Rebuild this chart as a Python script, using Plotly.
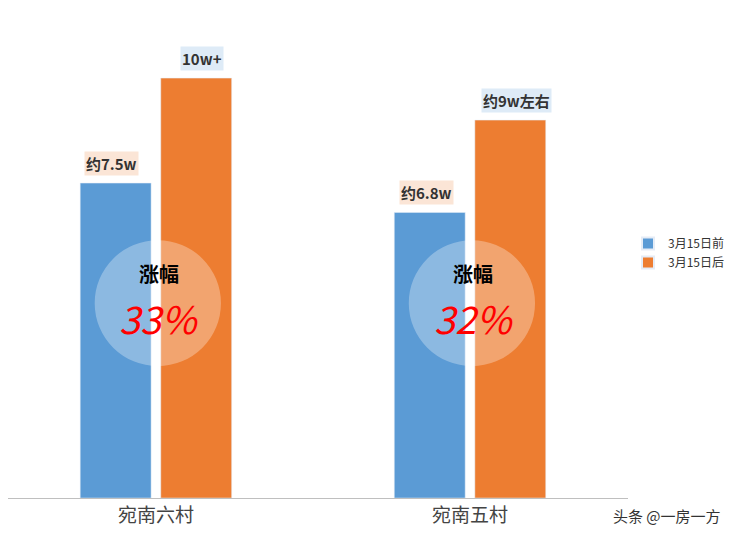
import plotly.graph_objects as go

# 数据
villages = ["宛南六村", "宛南五村"]
before = [7.5, 6.8]
after = [10, 9]
before_labels = ["约7.5w", "约6.8w"]
after_labels = ["10w+", "约9w左右"]
rises = ["33%", "32%"]

fig = go.Figure()
fig.add_trace(go.Bar(x=villages, y=before, name="3月15日前", marker_color="#5b9bd5"))
fig.add_trace(go.Bar(x=villages, y=after, name="3月15日后", marker_color="#ed7d31"))

cjk = "Noto Sans CJK SC"
for i, v in enumerate(villages):
    # 标签
    fig.add_annotation(x=v, y=before[i], text="<b>" + before_labels[i] + "</b>", xshift=-44, yshift=20,
                       showarrow=False, bgcolor="#fbe5d6", font=dict(size=15, family=cjk, color="#333"))
    fig.add_annotation(x=v, y=after[i], text="<b>" + after_labels[i] + "</b>", xshift=46, yshift=20,
                       showarrow=False, bgcolor="#deebf7", font=dict(size=15, family=cjk, color="#333"))
    # 半透明圆
    fig.add_shape(type="circle", xref="x", yref="y", x0=i - 0.195, x1=i + 0.207,
                  y0=4.64 - 1.5, y1=4.64 + 1.5, fillcolor="rgba(255,255,255,0.3)",
                  line_width=0, layer="above")
    fig.add_annotation(x=v, y=5.35, text="<b>涨幅</b>", showarrow=False, xshift=3,
                       font=dict(size=20, family=cjk, color="black"))
    fig.add_annotation(x=v, y=4.3, text="<i>" + rises[i] + "</i>", showarrow=False, xshift=3,
                       font=dict(size=38, family=cjk, color="red"))

fig.add_annotation(xref="paper", yref="paper", x=1.153, y=-0.062, text="头条 @一房一方",
                   showarrow=False, font=dict(size=15, family=cjk, color="#333"), xanchor="right")

fig.update_layout(
    width=732, height=542, plot_bgcolor="white", paper_bgcolor="white",
    margin=dict(l=0, r=112, t=0, b=52, autoexpand=False),
    barmode="group", bargap=0.487, bargroupgap=0.12,
    legend=dict(x=1.0, y=0.5, yanchor="middle", font=dict(size=12, family=cjk, color="#333"),
                itemsizing="constant", tracegroupgap=0),
    xaxis=dict(showline=True, linecolor="#bfbfbf", range=[-0.471, 1.503],
               tickfont=dict(size=19, family=cjk, color="#444")),
    yaxis=dict(range=[0, 11.67], visible=False, showgrid=False),
)
fig.write_html("out.html")
